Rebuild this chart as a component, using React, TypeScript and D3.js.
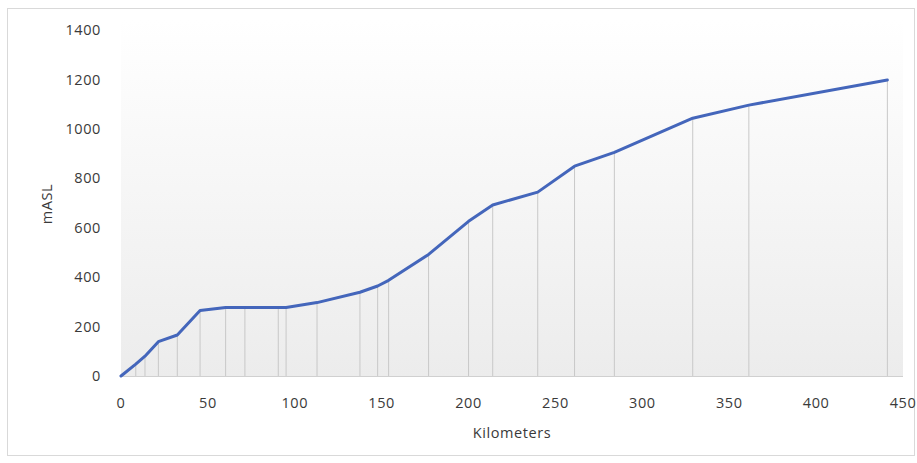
import React from "react";
import * as d3 from "d3";

const km = [0, 8.5, 13.8, 21.5, 32.4, 45.5, 60.2, 71.3, 90.5, 95, 112.8, 137.5, 147.7, 154, 177, 200, 213.9, 239.8, 261, 283.9, 329, 361.3, 441];
const masl = [0, 48, 80, 139, 166, 265, 277, 277, 277, 277, 297, 339, 364, 387, 492, 626, 692, 744, 849, 905, 1043, 1096, 1198];
const xTicks = [0, 50, 100, 150, 200, 250, 300, 350, 400, 450];
const yTicks = [0, 200, 400, 600, 800, 1000, 1200, 1400];

const W = 917, H = 463;
const left = 121, right = 903, top = 30, bottom = 376;

export default function App() {
  const x = d3.scaleLinear().domain([0, 450]).range([left, right]);
  const y = d3.scaleLinear().domain([0, 1400]).range([bottom, top]);
  const pts = km.map((k, i) => [k, masl[i]] as [number, number]);
  const line = d3.line<[number, number]>().x(d => x(d[0])).y(d => y(d[1]));
  const font = "'Open Sans', 'DejaVu Sans', sans-serif";
  const ts = { fontFamily: font, fontSize: 14.5, fill: "#3a3a3a", letterSpacing: 0.6 } as const;
  return (
    <svg width={W} height={H} style={{ position: "absolute", left: 0, top: 0 }}>
      <defs>
        <linearGradient id="bg" x1="0" y1="0" x2="0" y2="1">
          <stop offset="0" stopColor="#ffffff" />
          <stop offset="1" stopColor="#ececec" />
        </linearGradient>
      </defs>
      <rect x={0} y={0} width={W} height={H} fill="#fff" />
      <rect x={7.5} y={8.5} width={907} height={447} fill="#fff" stroke="#d9d9d9" />
      <rect x={left} y={top - 10} width={right - left} height={bottom - top + 10} fill="url(#bg)" />
      {pts.map((p, i) => (
        <line key={i} x1={x(p[0])} x2={x(p[0])} y1={y(p[1])} y2={bottom} stroke="#c8c8c8" strokeWidth={1} />
      ))}
      <line x1={left} x2={right} y1={bottom + 0.5} y2={bottom + 0.5} stroke="#d0d0d0" />
      <path d={line(pts) || ""} fill="none" stroke="#4466bb" strokeWidth={3} strokeLinejoin="round" strokeLinecap="round" />
      {yTicks.map(t => (
        <text key={t} x={101} y={y(t)} dy="0.35em" textAnchor="end" {...ts}>{t}</text>
      ))}
      {xTicks.map(t => (
        <text key={t} x={x(t)} y={408} textAnchor="middle" {...ts}>{t}</text>
      ))}
      <text x={512} y={438} textAnchor="middle" {...ts}>Kilometers</text>
      <text transform={`translate(52,204) rotate(-90)`} textAnchor="middle" {...ts}>mASL</text>
    </svg>
  );
}
